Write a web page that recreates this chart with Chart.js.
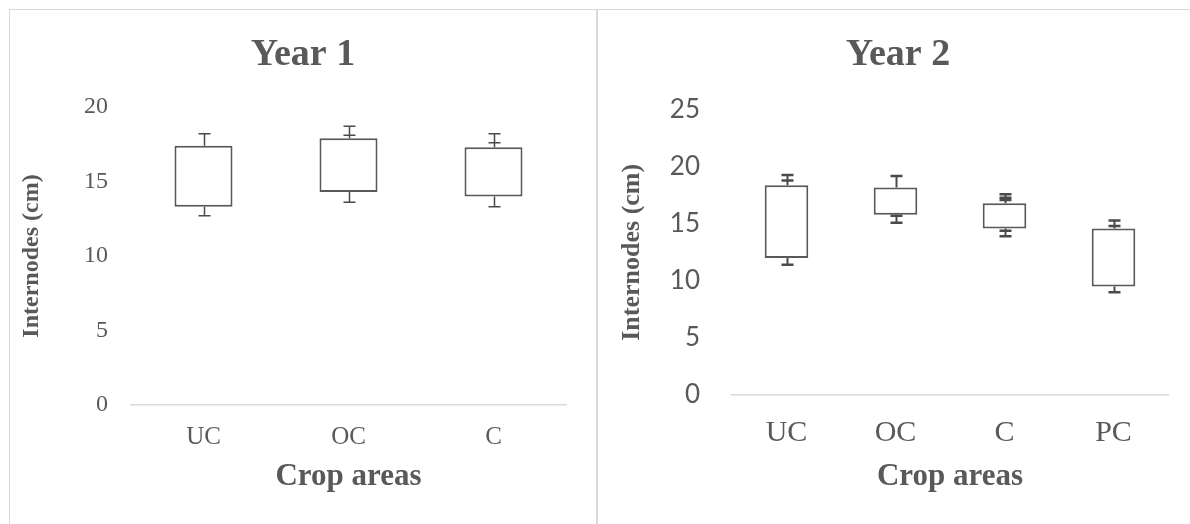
<!DOCTYPE html>
<html><head><meta charset="utf-8">
<script src="https://cdn.jsdelivr.net/npm/chart.js@4"></script>
<style>
html,body{margin:0;padding:0;background:#fff;overflow:hidden;width:1190px;height:524px;}
.panel{position:absolute;top:9px;height:530px;border-top:1px solid #d9d9d9;border-left:1px solid #d9d9d9;box-sizing:border-box;}
#p1{left:9px;width:588px;border-right:1px solid #d9d9d9;}
#p2{left:597px;width:620px;}
canvas{position:absolute;top:0;left:0;}
</style></head>
<body>
<div class="panel" id="p1"><canvas id="c1" width="586" height="514"></canvas></div>
<div class="panel" id="p2"><canvas id="c2" width="600" height="514"></canvas></div>
<script>
// ---- data ----
const year1Categories = ['UC', 'OC', 'C'];
const year1Q1  = [13.3, 14.3, 14.0];
const year1Q3  = [17.4, 17.9, 17.3];
const year1Min = [12.7, 13.6, 13.3];
const year1Max = [18.2, 18.7, 18.2];
const year1ExtraCaps = [[], [18.1], [17.6]];

const year2Categories = ['UC', 'OC', 'C', 'PC'];
const year2Q1  = [12.0, 15.8, 14.6, 9.5];
const year2Q3  = [18.4, 18.2, 16.8, 14.6];
const year2Min = [11.4, 15.1, 13.9, 9.0];
const year2Max = [19.3, 19.2, 17.6, 15.3];
const year2ExtraCaps = [[18.8], [15.7], [17.3, 17.1, 14.4], [14.8]];

const year1Ticks = {min: 0, max: 20, step: 5};
const year2Ticks = {min: 0, max: 25, step: 5};

const TXT = '#595959';
const SERIF = 'Liberation Serif';

function whiskerPlugin(q1, q3, mn, mx, extra, lw, capLw, capW) {
  return {
    id: 'whiskers',
    afterDatasetsDraw(chart) {
      const ctx = chart.ctx, y = chart.scales.y;
      const meta = chart.getDatasetMeta(0);
      ctx.save();
      ctx.strokeStyle = '#4a4a4a';
      meta.data.forEach((bar, i) => {
        const cx = Math.round(bar.x) + 0.5;
        ctx.lineWidth = lw;
        ctx.beginPath();
        ctx.moveTo(cx, y.getPixelForValue(q3[i]));
        ctx.lineTo(cx, y.getPixelForValue(mx[i]));
        ctx.moveTo(cx, y.getPixelForValue(q1[i]));
        ctx.lineTo(cx, y.getPixelForValue(mn[i]));
        ctx.stroke();
        ctx.lineWidth = capLw;
        ctx.beginPath();
        [mx[i], mn[i]].concat(extra[i]).forEach(v => {
          const py = y.getPixelForValue(v);
          ctx.moveTo(cx - capW / 2, py);
          ctx.lineTo(cx + capW / 2, py);
        });
        ctx.stroke();
      });
      ctx.restore();
    }
  };
}

function makeChart(id, cfg) {
  return new Chart(document.getElementById(id), {
    type: 'bar',
    data: {
      labels: cfg.labels,
      datasets: [{
        data: cfg.labels.map((c, i) => [cfg.q1[i], cfg.q3[i]]),
        backgroundColor: '#ffffff',
        borderColor: '#595959',
        borderWidth: 2,
        borderSkipped: false,
        barPercentage: 0.4,
        categoryPercentage: 1
      }]
    },
    plugins: [whiskerPlugin(cfg.q1, cfg.q3, cfg.min, cfg.max, cfg.extra, cfg.lw, cfg.capLw, 12)],
    options: {
      responsive: false,
      animation: false,
      events: [],
      layout: {padding: 0},
      plugins: {
        legend: {display: false},
        tooltip: {enabled: false},
        title: {
          display: true, text: cfg.title, color: TXT,
          font: {family: SERIF, size: 38, weight: 'bold'},
          padding: {top: cfg.titleTop, bottom: cfg.titleBottom}
        }
      },
      scales: {
        x: {
          offset: true,
          grid: {display: false, drawTicks: false},
          border: {display: true, color: '#d9d9d9', width: 1.5},
          ticks: {color: TXT, font: {family: SERIF, size: cfg.catSize}, padding: cfg.catPad},
          title: {display: true, text: 'Crop areas', color: TXT,
            font: {family: SERIF, size: 31, weight: 'bold'}, padding: {top: 0, bottom: 28.4}},
          afterFit(s) { s.height = cfg.xHeight; }
        },
        y: {
          min: cfg.ticks.min, max: cfg.ticks.max,
          grid: {display: false, drawTicks: false},
          border: {display: false},
          ticks: {stepSize: cfg.ticks.step, color: TXT, font: {family: cfg.tickFont, size: cfg.tickSize}, padding: cfg.tickPad},
          title: {display: true, text: 'Internodes (cm)', color: TXT,
            font: {family: SERIF, size: cfg.yTitleSize, weight: 'bold'}, padding: {top: cfg.yTitlePad, bottom: 0}},
          afterFit(s) { s.width = cfg.yWidth; }
        },
        yR: {
          position: 'right',
          display: true,
          grid: {display: false, drawTicks: false},
          border: {display: false},
          ticks: {display: false},
          afterFit(s) { s.width = 30; }
        }
      }
    }
  });
}

makeChart('c1', {
  labels: year1Categories, q1: year1Q1, q3: year1Q3, min: year1Min, max: year1Max, extra: year1ExtraCaps,
  ticks: year1Ticks, title: 'Year 1', titleTop: 22.2, titleBottom: 29.2,
  catSize: 25, catPad: 17, xHeight: 119,
  tickFont: SERIF, tickSize: 24, tickPad: 23, yWidth: 121, yTitleSize: 24, yTitlePad: 7.6,
  lw: 1.5, capLw: 1.5
});
makeChart('c2', {
  labels: year2Categories, q1: year2Q1, q3: year2Q3, min: year2Min, max: year2Max, extra: year2ExtraCaps,
  ticks: year2Ticks, title: 'Year 2', titleTop: 22.2, titleBottom: 32.2,
  catSize: 30, catPad: 21, xHeight: 129.4,
  tickFont: 'Lato', tickSize: 26, tickPad: 32, yWidth: 134, yTitleSize: 26, yTitlePad: 18.4,
  lw: 2, capLw: 2.5
});
</script>
</body></html>
